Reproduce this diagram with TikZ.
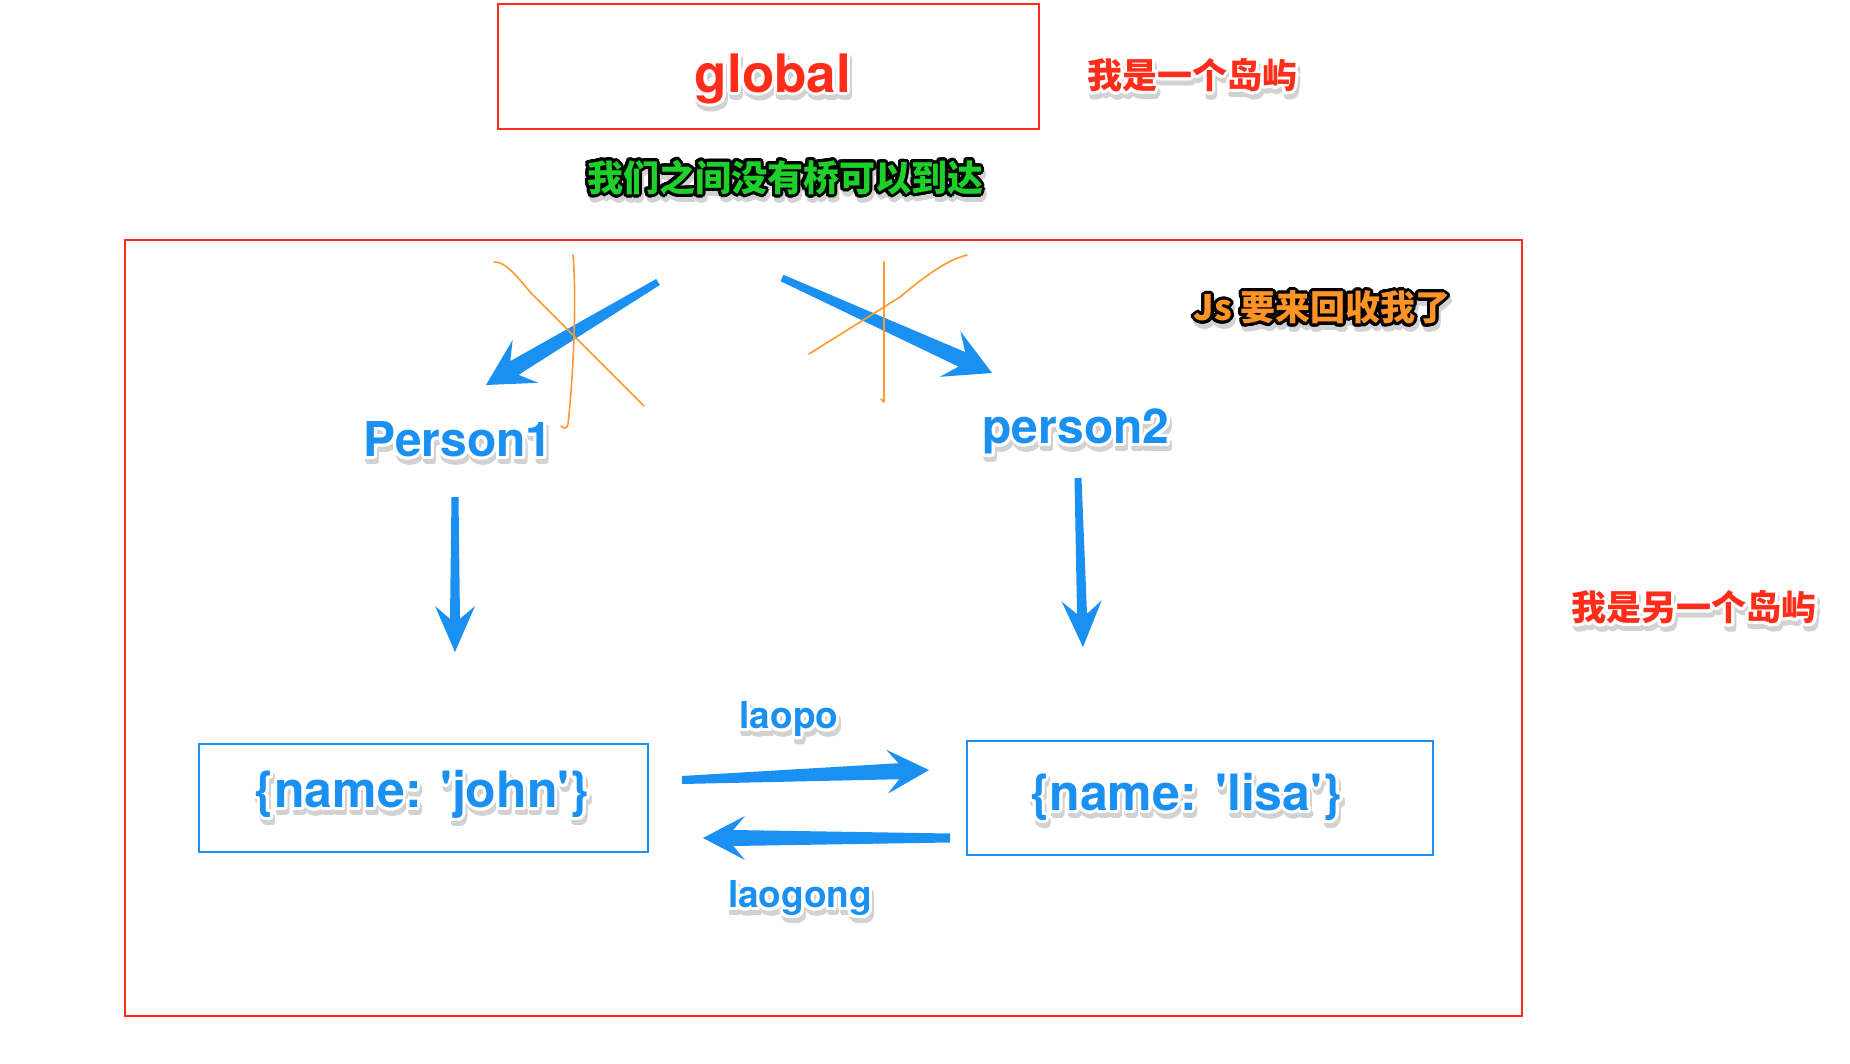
\documentclass[tikz,border=0pt]{standalone}
\usepackage{fontspec}
\setmainfont{TeX Gyre Heros}
\newfontfamily\cjk{Noto Sans CJK SC}
\usepackage{contour}
\contourlength{3pt}
\contournumber{24}
\usetikzlibrary{calc}
\definecolor{kred}{HTML}{FF2D1A}
\definecolor{kblue}{HTML}{1A90F2}
\definecolor{kgreen}{HTML}{1ED02A}
\definecolor{korange}{HTML}{FF9326}
\definecolor{kline}{HTML}{FF9A33}
\definecolor{kshadow}{HTML}{D2D2D2}

% #1 name, #2 position, #3 size, #4 text colour, #5 outline colour, #6 text
\newcommand\fancylabel[6]{%
  \node[font=\fontsize{#3}{#3}\selectfont\bfseries, text=kshadow] at ($#2+(2,5)$) {\contour{kshadow}{#6}};
  \node[font=\fontsize{#3}{#3}\selectfont\bfseries, text=#4] (#1) at #2 {\contour{#5}{#6}};
}
% #1 start, #2 end, #3 start half width, #4 end half width, #5 head length, #6 head half width
\newcommand\fatarrow[6]{%
  \coordinate (fa@n) at ($(#2)!0.72*#5!(#1)$);
  \coordinate (fa@c) at ($(#2)!#5!(#1)$);
  \fill[kblue, line join=round]
    ($(#1)!#3!90:(#2)$) --
    ($(fa@n)!#4!90:(#2)$) --
    ($(fa@c)!#6!90:(#2)$) --
    (#2) --
    ($(fa@c)!#6!-90:(#2)$) --
    ($(fa@n)!#4!-90:(#2)$) --
    ($(#1)!#3!-90:(#2)$) -- cycle;
}

\begin{document}
\begin{tikzpicture}[x=1pt,y=-1pt,
  redbox/.style={draw=kred, line width=1.5pt, inner sep=0pt},
  bluebox/.style={draw=kblue, line width=1.5pt, inner sep=0pt},
  scribble/.style={draw=kline, line width=1.6pt, line cap=round, line join=round},
]
\useasboundingbox[fill=white] (0,0) rectangle (1850,1064);

% boxes
\node[redbox, minimum width=541pt, minimum height=125pt] (globalbox) at (768.5,66.5) {};
\node[redbox, minimum width=1397pt, minimum height=776pt] (island) at (823.5,628) {};
\node[bluebox, minimum width=449pt, minimum height=108pt] (johnbox) at (423.5,798) {};
\node[bluebox, minimum width=466pt, minimum height=114pt] (lisabox) at (1200,798) {};

% labels
\fancylabel{global}{(773,80)}{53}{kred}{white}{global}
\fancylabel{island1}{(1192,77)}{35}{kred}{white}{\cjk 我是一个岛屿}
\fancylabel{nobridge}{(785,179)}{36}{kgreen}{black}{\cjk 我们之间没有桥可以到达}
\fancylabel{js}{(1322,309)}{35}{korange}{black}{\cjk Js 要来回收我了}
\fancylabel{island2}{(1694,609)}{35}{kred}{white}{\cjk 我是另一个岛屿}
\fancylabel{p1}{(458,441)}{48}{kblue}{white}{Person1}
\fancylabel{p2}{(1076,433)}{48}{kblue}{white}{person2}
\fancylabel{john}{(422,796)}{50}{kblue}{white}{\{name: \textquotesingle john\textquotesingle\}}
\fancylabel{lisa}{(1186,798)}{50}{kblue}{white}{\{name: \textquotesingle lisa\textquotesingle\}}
\fancylabel{laopo}{(789,721)}{37}{kblue}{white}{laopo}
\fancylabel{laogong}{(800,900)}{37}{kblue}{white}{laogong}

% arrow end points
\coordinate (a1s) at (658,282);  \coordinate (a1e) at (486,385);
\coordinate (a2s) at (782,278);  \coordinate (a2e) at (992,373);
\coordinate (d1s) at (455,497);  \coordinate (d1e) at (455,652);
\coordinate (d2s) at (1078,478); \coordinate (d2e) at (1083,647);
\coordinate (lps) at (682,780);  \coordinate (lpe) at (929,770);
\coordinate (lgs) at (950,838);  \coordinate (lge) at (703,838);

\fatarrow{a1s}{a1e}{3.5pt}{8pt}{46pt}{25pt}
\fatarrow{a2s}{a2e}{3.5pt}{8pt}{46pt}{25pt}
\fatarrow{d1s}{d1e}{3.5pt}{5pt}{46pt}{20pt}
\fatarrow{d2s}{d2e}{3.5pt}{5pt}{46pt}{20pt}
\fatarrow{lps}{lpe}{4pt}{8pt}{42pt}{22pt}
\fatarrow{lgs}{lge}{4.5pt}{8pt}{42pt}{22pt}

% hand-drawn crosses
\draw[scribble] (494,262) .. controls (504,262) and (512,270) .. (530,292) -- (644,406);
\draw[scribble] (573,255) .. controls (577,300) and (573,380) .. (568,424) .. controls (567,429) and (564,429) .. (561,426);
\draw[scribble] (884,262) -- (884,402) -- (881,399);
\draw[scribble] (809,354) -- (900,297) .. controls (930,272) and (948,260) .. (967,255);
\end{tikzpicture}
\end{document}
